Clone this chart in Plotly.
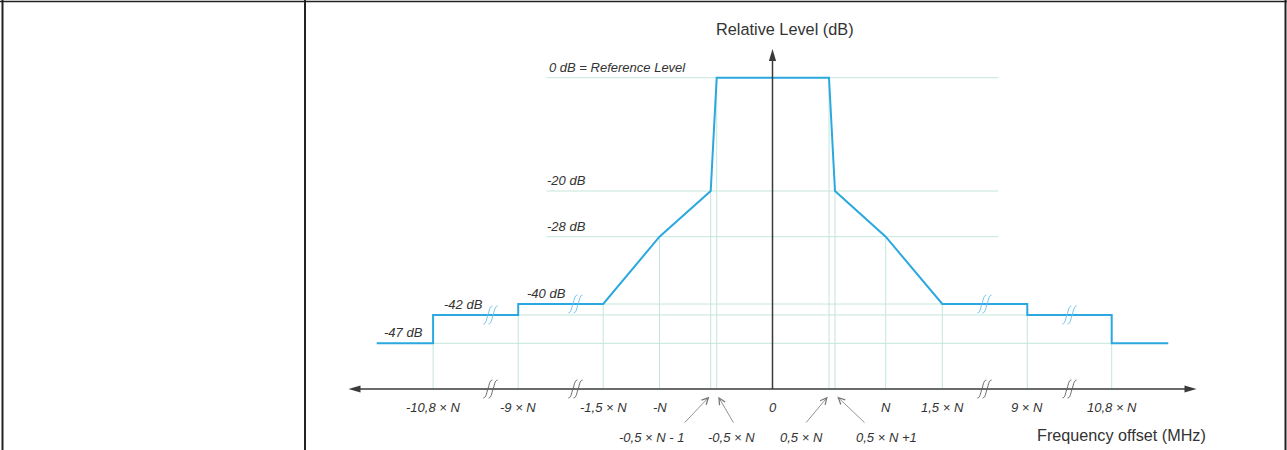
import plotly.graph_objects as go

# ---------------- data ----------------
# attenuation levels of the spectrum mask (dB) and their labels
level_db = [0, -20, -28, -40, -42, -47]
level_labels = ["0 dB = Reference Level", "-20 dB", "-28 dB", "-40 dB", "-42 dB", "-47 dB"]

# frequency offset breakpoints (axis tick labels)
tick_labels = ["-10,8 × N", "-9 × N", "-1,5 × N", "-N", "0", "N", "1,5 × N", "9 × N", "10,8 × N"]
tick_keys = ["-10.8N", "-9N", "-1.5N", "-N", "0", "N", "1.5N", "9N", "10.8N"]

# labels pointed at by arrows (second row)
arrow_labels = ["-0,5 × N - 1", "-0,5 × N", "0,5 × N", "0,5 × N +1"]
arrow_keys = ["-0.5N-1", "-0.5N", "0.5N", "0.5N+1"]

# spectrum mask as (frequency key, level dB) breakpoints
mask_keys = ["start", "-10.8N", "-10.8N", "-9N", "-9N", "-1.5N", "-N", "-0.5N-1", "-0.5N",
             "0.5N", "0.5N+1", "N", "1.5N", "9N", "9N", "10.8N", "10.8N", "end"]
mask_db = [-47, -47, -42, -42, -40, -40, -28, -20, 0,
           0, -20, -28, -40, -40, -42, -42, -47, -47]

# vertical guide lines: frequency key -> level they reach
guide_keys = ["-10.8N", "-9N", "-1.5N", "-N", "-0.5N-1", "-0.5N",
              "0.5N", "0.5N+1", "N", "1.5N", "9N", "10.8N"]
guide_db = [-47, -42, -40, -28, -20, 0, 0, -20, -28, -40, -42, -47]

# ---------------- schematic layout (not to scale) ----------------
xpos = {"start": -395.8, "-10.8N": -339.4, "-9N": -254.3, "-1.5N": -169.3, "-N": -113.0,
        "-0.5N-1": -61.8, "-0.5N": -55.8, "0": 0.0, "0.5N": 56.5, "0.5N+1": 62.5,
        "N": 113.2, "1.5N": 169.8, "9N": 254.8, "10.8N": 339.2, "end": 395.8}
ypos = {0: 311.3, -20: 198.0, -28: 152.3, -40: 85.0, -42: 74.0, -47: 45.7}
hgrid_half = {0: 225.8, -20: 225.8, -28: 225.8, -40: 254.5, -42: 339.3, -47: 339.3}
level_label_x = {0: -225.8, -20: -227.5, -28: -227.5, -40: -247.5, -42: -330.8, -47: -390.8}
break_x = [-282.0, -197.0, 212.0, 297.0]
break_line_db = [-42, -40, -40, -42]

BLUE = "#2aa8df"
GRID = "#c4e6d8"
AXIS = "#3a3a3a"
TXT = "#333333"
FONT = "Liberation Sans"

fig = go.Figure()

# guide grid (horizontal + vertical)
gx, gy = [], []
for db in level_db:
    gx += [-hgrid_half[db], hgrid_half[db], None]
    gy += [ypos[db], ypos[db], None]
for k, db in zip(guide_keys, guide_db):
    gx += [xpos[k], xpos[k], None]
    gy += [0, ypos[db], None]
fig.add_trace(go.Scatter(x=gx, y=gy, mode="lines", line=dict(color=GRID, width=1),
                         hoverinfo="skip", showlegend=False))

# mask line
fig.add_trace(go.Scatter(x=[xpos[k] for k in mask_keys], y=[ypos[d] for d in mask_db],
                         mode="lines", line=dict(color=BLUE, width=2),
                         hoverinfo="skip", showlegend=False))

shapes = []
# axes
shapes.append(dict(type="line", x0=-420, x1=420, y0=0, y1=0, line=dict(color=AXIS, width=1.5)))
shapes.append(dict(type="line", x0=0, x1=0, y0=0, y1=332, line=dict(color=AXIS, width=1.5)))
# arrowheads
shapes.append(dict(type="path", path="M 424,0 L 412,3.6 L 412,-3.6 Z", fillcolor=AXIS, line=dict(width=0)))
shapes.append(dict(type="path", path="M -424,0 L -412,3.6 L -412,-3.6 Z", fillcolor=AXIS, line=dict(width=0)))
shapes.append(dict(type="path", path="M 0,340 L -3.6,328 L 3.6,328 Z", fillcolor=AXIS, line=dict(width=0)))


def brk(cx, cy, color):
    out = []
    for dx in (-2.6, 2.6):
        x = cx + dx
        p = (f"M {x-4.5},{cy-9} C {x-1.5},{cy-9} {x-1},{cy-2} {x},{cy} "
             f"C {x+1},{cy+2} {x+1.5},{cy+9} {x+4.5},{cy+9}")
        out.append(dict(type="path", path=p, line=dict(color=color, width=1)))
    return out


for bx in break_x:
    shapes += brk(bx, 0, "#666666")
for bx, db in zip(break_x, break_line_db):
    shapes += brk(bx, ypos[db], "#6cc3ea")

# table borders (paper coords)
W, H = 1287, 450
shapes.append(dict(type="line", xref="paper", yref="paper", x0=0, x1=1, y0=1 - 1.5 / H, y1=1 - 1.5 / H,
                   line=dict(color="#222222", width=1.5)))
for px in (2.5, 305, 1285.5):
    shapes.append(dict(type="line", xref="paper", yref="paper", x0=px / W, x1=px / W, y0=0, y1=1,
                       line=dict(color="#222222", width=2)))

ann = []
ital = dict(family=FONT, size=13, color=TXT, style="italic")
for db, lab in zip(level_db, level_labels):
    ann.append(dict(x=level_label_x[db], y=ypos[db] + 10.7, text=lab, showarrow=False,
                    xanchor="left", yanchor="middle", font=ital))
for k, lab in zip(tick_keys, tick_labels):
    ann.append(dict(x=xpos[k], y=-18.5, text=lab, showarrow=False, xanchor="center",
                    yanchor="middle", font=ital))

arrow_label_x = {"-0.5N-1": -120.8, "-0.5N": -41.5, "0.5N": 29.2, "0.5N+1": 113.5}
arrow_tail_x = {"-0.5N-1": -89.2, "-0.5N": -38.2, "0.5N": 32.5, "0.5N+1": 93.5}
arrow_tip_dx = {"-0.5N-1": -1.4, "-0.5N": 1.6, "0.5N": -1.3, "0.5N+1": 2.3}
for k, lab in zip(arrow_keys, arrow_labels):
    ann.append(dict(x=arrow_label_x[k], y=-48.7, text=lab, showarrow=False, xanchor="center",
                    yanchor="middle", font=ital))
    ann.append(dict(x=xpos[k] + arrow_tip_dx[k], y=-7.7, ax=arrow_tail_x[k], ay=-35,
                    axref="x", ayref="y", text="", showarrow=True, arrowhead=5,
                    arrowsize=1.6, arrowwidth=0.8, arrowcolor="#777777"))

ann.append(dict(x=12.5, y=360, text="Relative Level (dB)", showarrow=False, xanchor="center",
                yanchor="middle", font=dict(family=FONT, size=16.3, color=TXT)))
ann.append(dict(x=349.2, y=-46, text="Frequency offset (MHz)", showarrow=False, xanchor="center",
                yanchor="middle", font=dict(family=FONT, size=16.2, color=TXT)))

fig.update_layout(
    width=W, height=H, margin=dict(l=0, r=0, t=0, b=0),
    paper_bgcolor="white", plot_bgcolor="white", showlegend=False,
    xaxis=dict(range=[-772.5, 514.5], visible=False, fixedrange=True),
    yaxis=dict(range=[-61, 389], visible=False, fixedrange=True),
    shapes=shapes, annotations=ann,
)

fig.write_html(
    "out.html",
    config={"displayModeBar": False},
    post_script="document.body.style.margin='0';document.body.style.overflow='hidden';",
)
